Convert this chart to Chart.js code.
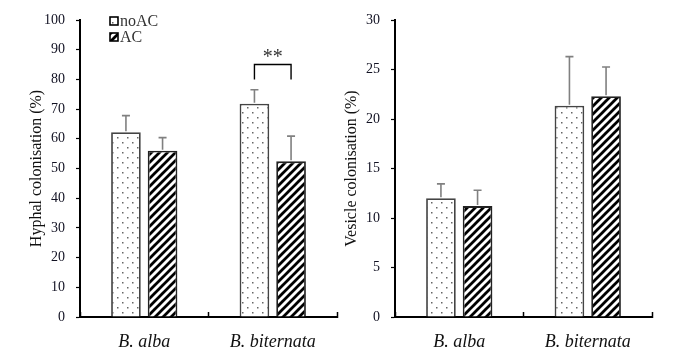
<!DOCTYPE html>
<html>
<head>
<meta charset="utf-8">
<script src="https://cdn.jsdelivr.net/npm/chart.js@4.4.1/dist/chart.umd.min.js"></script>
<style>
  html, body { margin: 0; padding: 0; background: #ffffff; }
  #wrap { position: relative; width: 678px; height: 360px; overflow: hidden; background:#fff; }
  #c1 { position: absolute; left: 0; top: 0; }
  #c2 { position: absolute; left: 339px; top: 0; }
</style>
</head>
<body>
<div id="wrap">
  <canvas id="c1" width="339" height="360"></canvas>
  <canvas id="c2" width="339" height="360"></canvas>
</div>
<script>
// ---------- data ----------
const categories = ['B. alba', 'B. biternata'];
const seriesNames = ['noAC', 'AC'];

const hyphalNoAC    = [62.2, 71.8];
const hyphalNoACErr = [5.6, 4.7];
const hyphalAC      = [56.0, 52.4];
const hyphalACErr   = [4.4, 8.5];

const vesicleNoAC    = [12.0, 21.35];
const vesicleNoACErr = [1.45, 4.95];
const vesicleAC      = [11.2, 22.3];
const vesicleACErr   = [1.6, 2.95];

const hyphalTicks  = [0, 10, 20, 30, 40, 50, 60, 70, 80, 90, 100];
const vesicleTicks = [0, 5, 10, 15, 20, 25, 30];

const sigCategoryIndex = 1;   // B. biternata, hyphal chart
const sigLabel = '**';
const sigBracketTop = 85;
const sigBracketLeg = 80;
const sigTextValue = 88.6;

// ---------- patterns ----------
function dotPattern() {
  const t = document.createElement('canvas');
  t.width = 10; t.height = 10;
  const c = t.getContext('2d');
  c.fillStyle = '#ffffff'; c.fillRect(0, 0, 10, 10);
  c.fillStyle = '#666666';
  c.fillRect(2, 2, 1.5, 1.5);
  c.fillRect(7, 7, 1.5, 1.5);
  return c.createPattern(t, 'repeat');
}
function stripePattern() {
  const s = 8;
  const t = document.createElement('canvas');
  t.width = s; t.height = s;
  const c = t.getContext('2d');
  c.fillStyle = '#ffffff'; c.fillRect(0, 0, s, s);
  c.strokeStyle = '#000000'; c.lineWidth = 2.8; c.lineCap = 'square';
  c.beginPath();
  c.moveTo(-s, s * 1); c.lineTo(s * 1, -s);
  c.moveTo(0, s * 2); c.lineTo(s * 2, 0);
  c.moveTo(-s, s * 2 ); c.lineTo(s * 2, -s);
  c.stroke();
  return c.createPattern(t, 'repeat');
}
const dots = dotPattern();
const stripes = stripePattern();

const serif = "'Liberation Serif', 'Times New Roman', serif";

// ---------- plugins ----------
const errorBarPlugin = {
  id: 'errorBars',
  afterDatasetsDraw(chart) {
    const ctx = chart.ctx;
    const ys = chart.scales.y;
    ctx.save();
    ctx.strokeStyle = '#808080';
    ctx.lineWidth = 1.6;
    chart.data.datasets.forEach((ds, i) => {
      const meta = chart.getDatasetMeta(i);
      meta.data.forEach((bar, j) => {
        const v = ds.data[j], e = ds.errors[j];
        const y0 = ys.getPixelForValue(v);
        const y1 = ys.getPixelForValue(v + e);
        ctx.beginPath();
        ctx.moveTo(bar.x, y0 - 1);
        ctx.lineTo(bar.x, y1);
        ctx.moveTo(bar.x - 4, y1);
        ctx.lineTo(bar.x + 4, y1);
        ctx.stroke();
      });
    });
    ctx.restore();
  }
};

const sigPlugin = {
  id: 'sig',
  afterDatasetsDraw(chart, args, opts) {
    if (!opts || !opts.show) return;
    const ctx = chart.ctx;
    const ys = chart.scales.y;
    const b0 = chart.getDatasetMeta(0).data[sigCategoryIndex];
    const b1 = chart.getDatasetMeta(1).data[sigCategoryIndex];
    const yt = ys.getPixelForValue(sigBracketTop);
    const yl = ys.getPixelForValue(sigBracketLeg);
    ctx.save();
    ctx.strokeStyle = '#000';
    ctx.lineWidth = 1.4;
    ctx.beginPath();
    ctx.moveTo(b0.x, yl); ctx.lineTo(b0.x, yt); ctx.lineTo(b1.x, yt); ctx.lineTo(b1.x, yl);
    ctx.stroke();
    ctx.fillStyle = '#333';
    ctx.font = '20px ' + serif;
    ctx.textAlign = 'center';
    ctx.textBaseline = 'middle';
    ctx.fillText(sigLabel, (b0.x + b1.x) / 2, ys.getPixelForValue(sigTextValue) + 4);
    ctx.restore();
  }
};

const miniLegendPlugin = {
  id: 'miniLegend',
  afterDraw(chart, args, opts) {
    if (!opts || !opts.show) return;
    const ctx = chart.ctx;
    const ca = chart.chartArea;
    ctx.save();
    chart.data.datasets.forEach((ds, i) => {
      const x = ca.left + 30, y = ca.top - 3 + i * 16;
      ctx.fillStyle = ds.backgroundColor;
      ctx.fillRect(x, y, 8, 8);
      ctx.strokeStyle = '#000';
      ctx.lineWidth = 1.6;
      ctx.strokeRect(x, y, 8, 8);
      ctx.fillStyle = '#333';
      ctx.font = '16px ' + serif;
      ctx.textAlign = 'left';
      ctx.textBaseline = 'middle';
      ctx.fillText(ds.label, x + 10, y + 4.5);
    });
    ctx.restore();
  }
};

function makeChart(canvasId, noAC, noACErr, ac, acErr, ticks, title, yAxisWidth, padRight, titlePad, opts) {
  const maxV = ticks[ticks.length - 1];
  const step = ticks[1] - ticks[0];
  return new Chart(document.getElementById(canvasId), {
    type: 'bar',
    data: {
      labels: categories,
      datasets: [
        { label: seriesNames[0], data: noAC, errors: noACErr, backgroundColor: dots,
          borderColor: '#444', borderWidth: 1.8, borderSkipped: 'bottom' },
        { label: seriesNames[1], data: ac, errors: acErr, backgroundColor: stripes,
          borderColor: '#222', borderWidth: 1.8, borderSkipped: 'bottom' }
      ]
    },
    options: {
      responsive: false,
      animation: false,
      devicePixelRatio: 1,
      layout: { padding: { left: 0, right: padRight, top: 20, bottom: 0 } },
      datasets: { bar: { categoryPercentage: 0.57, barPercentage: 0.81 } },
      plugins: {
        legend: { display: false },
        tooltip: { enabled: false },
        title: { display: false },
        miniLegend: { show: opts.legend },
        sig: { show: opts.sig }
      },
      scales: {
        x: {
          offset: true,
          grid: { display: true, offset: true, drawOnChartArea: false, drawTicks: true,
                  tickLength: -5, tickColor: '#000', tickWidth: 1.5 },
          border: { display: true, color: '#000', width: 2 },
          ticks: { color: '#111', padding: 19,
                   font: { family: serif, size: 18, style: 'italic' } },
          afterFit(s) { s.height = 43; }
        },
        y: {
          min: 0, max: maxV,
          grid: { display: true, drawOnChartArea: false, drawTicks: true,
                  tickLength: 4, tickColor: '#000', tickWidth: 1.2 },
          border: { display: true, color: '#000', width: 2 },
          ticks: { stepSize: step, color: '#111122', padding: 11,
                   font: { family: serif, size: 14 } },
          title: { display: true, text: title, color: '#111',
                   font: { family: serif, size: 16 }, padding: { top: titlePad, bottom: 0 } },
          afterFit(s) { s.width = yAxisWidth; }
        }
      }
    },
    plugins: [errorBarPlugin, sigPlugin, miniLegendPlugin]
  });
}

makeChart('c1', hyphalNoAC, hyphalNoACErr, hyphalAC, hyphalACErr, hyphalTicks,
          'Hyphal colonisation (%)', 80, 2, 27.4, { legend: true, sig: true });
makeChart('c2', vesicleNoAC, vesicleNoACErr, vesicleAC, vesicleACErr, vesicleTicks,
          'Vesicle colonisation (%)', 56, 26, 3.4, { legend: false, sig: false });
</script>
</body>
</html>
